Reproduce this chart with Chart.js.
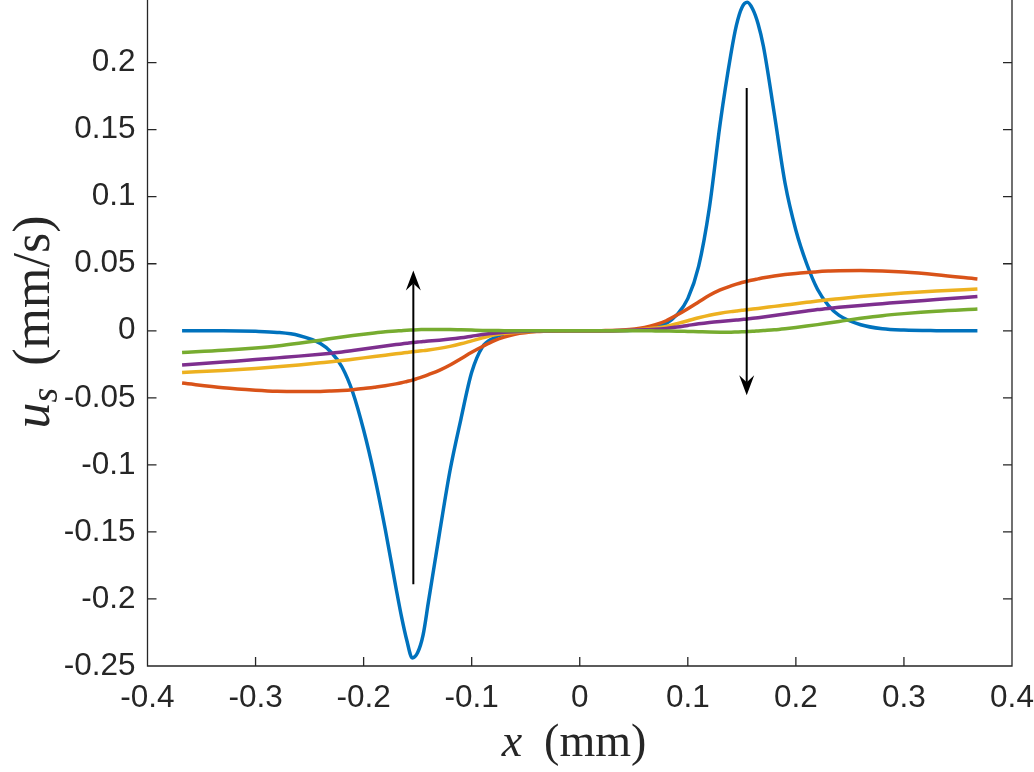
<!DOCTYPE html>
<html>
<head>
<meta charset="utf-8">
<title>u_s vs x</title>
<script src="https://cdn.jsdelivr.net/npm/chart.js@4.4.1/dist/chart.umd.min.js"></script>
<style>
  html, body { margin: 0; padding: 0; background: #fff; }
  #wrap { width: 1034px; height: 772px; }
</style>
</head>
<body>
<div id="wrap"><canvas id="usChart" width="1034" height="772"></canvas></div>
<script>
// x positions (mm), shared by every curve
const xMm = [
  -0.368, -0.33, -0.3, -0.28, -0.26, -0.24, -0.23, -0.22, -0.21, -0.2, -0.19, -0.18, -0.17, -0.165, -0.16,
  -0.155, -0.15, -0.145, -0.14, -0.13, -0.12, -0.11, -0.1, -0.09, -0.08, -0.07, -0.06, -0.04, -0.02,
  0,
  0.02, 0.04, 0.06, 0.07, 0.08, 0.09, 0.1, 0.11, 0.12, 0.13, 0.14, 0.145, 0.15, 0.155, 0.16,
  0.165, 0.17, 0.18, 0.19, 0.2, 0.21, 0.22, 0.23, 0.24, 0.26, 0.28, 0.3, 0.33, 0.368
];

// u_s (mm/s) for each curve
const curve1 = [
  0, 0, -0.0004, -0.0012, -0.0035, -0.0095, -0.016, -0.027, -0.046, -0.074, -0.108, -0.148, -0.192, -0.213, -0.231,
  -0.244, -0.240, -0.227, -0.202, -0.152, -0.104, -0.066, -0.031, -0.012, -0.0055, -0.0025, -0.001, -0.0002, 0,
  0,
  0, 0.0002, 0.001, 0.0025, 0.0055, 0.012, 0.024, 0.048, 0.092, 0.155, 0.207, 0.228, 0.241, 0.245, 0.240,
  0.229, 0.212, 0.162, 0.11, 0.075, 0.05, 0.031, 0.019, 0.0115, 0.0045, 0.0015, 0.0005, 0.0001, 0
];
const curve2 = [
  -0.039, -0.0425, -0.0443, -0.0451, -0.0453, -0.0452, -0.0449, -0.0445, -0.0439, -0.0431, -0.0421, -0.041, -0.0396, -0.0388, -0.0378,
  -0.0368, -0.0355, -0.0342, -0.0327, -0.0295, -0.0255, -0.0208, -0.016, -0.0117, -0.0077, -0.0047, -0.0026, -0.0006, -0.0001,
  0,
  0.0001, 0.0006, 0.0025, 0.0045, 0.0075, 0.0118, 0.0165, 0.0215, 0.0265, 0.0305, 0.0335, 0.0348, 0.036, 0.037, 0.0379,
  0.0387, 0.0395, 0.0408, 0.0419, 0.0428, 0.0435, 0.0441, 0.0445, 0.0448, 0.0449, 0.0446, 0.0438, 0.0418, 0.0386
];
const curve3 = [
  -0.0311, -0.0296, -0.0281, -0.0269, -0.0255, -0.0239, -0.0231, -0.0222, -0.0212, -0.0202, -0.0192, -0.0182, -0.0172, -0.0167, -0.0162,
  -0.0157, -0.0153, -0.0148, -0.0143, -0.0131, -0.0116, -0.0097, -0.0075, -0.0053, -0.0032, -0.002, -0.0012, -0.0003, 0,
  0,
  0, 0.0003, 0.0012, 0.002, 0.0032, 0.0053, 0.0075, 0.0097, 0.0116, 0.0131, 0.0143, 0.0148, 0.0153, 0.0157, 0.0162,
  0.0167, 0.0172, 0.0182, 0.0192, 0.0202, 0.0212, 0.0222, 0.0231, 0.0239, 0.0255, 0.0269, 0.0281, 0.0296, 0.0311
];
const curve4 = [
  -0.0256, -0.0233, -0.0215, -0.0202, -0.0189, -0.0175, -0.0167, -0.0158, -0.0147, -0.0136, -0.0125, -0.0114, -0.0103, -0.0098, -0.0093,
  -0.0088, -0.0084, -0.008, -0.0077, -0.007, -0.0062, -0.0052, -0.004, -0.0028, -0.0018, -0.0011, -0.0007, -0.0002, 0,
  0,
  0, 0.0002, 0.0007, 0.0011, 0.0018, 0.0028, 0.004, 0.0052, 0.0062, 0.007, 0.0077, 0.008, 0.0084, 0.0088, 0.0093,
  0.0098, 0.0103, 0.0114, 0.0125, 0.0136, 0.0147, 0.0158, 0.0167, 0.0175, 0.0189, 0.0202, 0.0215, 0.0233, 0.0256
];
const curve5 = [
  -0.0162, -0.0146, -0.0128, -0.0113, -0.0093, -0.007, -0.0058, -0.0046, -0.0035, -0.0025, -0.0016, -0.0008, -0.0002, 0.0001, 0.0004,
  0.0006, 0.0008, 0.0009, 0.001, 0.001, 0.0009, 0.0007, 0.0005, 0.0003, 0.0002, 0.0001, 0, 0, 0,
  0,
  0, 0, 0, -0.0001, -0.0002, -0.0003, -0.0005, -0.0007, -0.0009, -0.001, -0.001, -0.0009, -0.0008, -0.0006, -0.0004,
  -0.0001, 0.0002, 0.0008, 0.0016, 0.0025, 0.0035, 0.0046, 0.0058, 0.007, 0.0093, 0.0113, 0.0128, 0.0146, 0.0162
];

const xTicks = [-0.4, -0.3, -0.2, -0.1, 0, 0.1, 0.2, 0.3, 0.4];
const yTicks = [-0.25, -0.2, -0.15, -0.1, -0.05, 0, 0.05, 0.1, 0.15, 0.2];

// the two arrows: x position, start value, tip value
const arrowX = [-0.154, 0.1545];
const arrowFrom = [-0.189, 0.181];
const arrowTo = [0.045, -0.048];

const colors = ['#0072BD', '#D95319', '#EDB120', '#7E2F8E', '#77AC30'];
const curves = [curve1, curve2, curve3, curve4, curve5];

const axisColor = '#262626';
const tickFont = { family: '"Liberation Sans", Arial, Helvetica, sans-serif', size: 31.5 };

function fmtTick(v) {
  return String(parseFloat(v.toFixed(2)));
}

function drawArrow(ctx, x0, y0, x1, y1) {
  const ang = Math.atan2(y1 - y0, x1 - x0);
  const len = 20, half = 7.5, back = 13;
  const cos = Math.cos(ang), sin = Math.sin(ang);
  ctx.beginPath();
  ctx.moveTo(x0, y0);
  ctx.lineTo(x1 - back * cos, y1 - back * sin);
  ctx.lineWidth = 2;
  ctx.strokeStyle = '#000';
  ctx.stroke();
  ctx.beginPath();
  ctx.moveTo(x1, y1);
  ctx.lineTo(x1 - len * cos - half * sin, y1 - len * sin + half * cos);
  ctx.lineTo(x1 - back * cos, y1 - back * sin);
  ctx.lineTo(x1 - len * cos + half * sin, y1 - len * sin - half * cos);
  ctx.closePath();
  ctx.fillStyle = '#000';
  ctx.fill();
}

const framePlugin = {
  id: 'frame',
  afterDatasetsDraw(chart) {
    const { ctx, chartArea: a, scales: { x, y } } = chart;
    ctx.save();

    // box (left, bottom, right) and inward ticks
    ctx.strokeStyle = axisColor;
    ctx.lineWidth = 1.3;
    ctx.beginPath();
    ctx.moveTo(a.left, a.top);
    ctx.lineTo(a.left, a.bottom);
    ctx.lineTo(a.right, a.bottom);
    ctx.lineTo(a.right, a.top);
    xTicks.forEach(v => {
      const px = x.getPixelForValue(v);
      ctx.moveTo(px, a.bottom);
      ctx.lineTo(px, a.bottom - 9);
    });
    yTicks.forEach(v => {
      const py = y.getPixelForValue(v);
      ctx.moveTo(a.left, py);
      ctx.lineTo(a.left + 9, py);
      ctx.moveTo(a.right, py);
      ctx.lineTo(a.right - 9, py);
    });
    ctx.stroke();

    // arrows
    arrowX.forEach((xv, i) => {
      const px = x.getPixelForValue(xv);
      drawArrow(ctx, px, y.getPixelForValue(arrowFrom[i]), px, y.getPixelForValue(arrowTo[i]));
    });

    // x label: x (mm)
    ctx.fillStyle = axisColor;
    ctx.textBaseline = 'alphabetic';
    ctx.textAlign = 'left';
    const serif = '"Liberation Serif", "Times New Roman", serif';
    let itFont = 'italic 46px ' + serif;
    let rmFont = '46px ' + serif;
    ctx.font = itFont;
    const wx = ctx.measureText('x').width;
    ctx.font = rmFont;
    const wmm = ctx.measureText('(mm)').width;
    const gapX = 22;
    const totX = wx + gapX + wmm;
    const sx = 574 - totX / 2;
    ctx.font = itFont;
    ctx.fillText('x', sx, 756);
    ctx.font = rmFont;
    ctx.fillText('(mm)', sx + wx + gapX, 756);

    // y label: u_s (mm/s), rotated
    itFont = 'italic 52px ' + serif;
    rmFont = '52px ' + serif;
    const subFont = 'italic 38px ' + serif;
    ctx.font = itFont;
    const wu = ctx.measureText('u').width;
    ctx.font = subFont;
    const ws = ctx.measureText('s').width;
    ctx.font = rmFont;
    const wmms = ctx.measureText('(mm/s)').width;
    const gapY = 22;
    const totY = wu + ws + gapY + wmms;
    ctx.translate(49, 322);
    ctx.rotate(-Math.PI / 2);
    const sy = -totY / 2;
    ctx.font = itFont;
    ctx.fillText('u', sy, 0);
    ctx.font = subFont;
    ctx.fillText('s', sy + wu, 8);
    ctx.font = rmFont;
    ctx.fillText('(mm/s)', sy + wu + ws + gapY, 0);

    ctx.restore();
  }
};

new Chart(document.getElementById('usChart'), {
  type: 'line',
  data: {
    datasets: curves.map((c, i) => ({
      data: xMm.map((xv, j) => ({ x: xv, y: c[j] })),
      borderColor: colors[i],
      borderWidth: 3.5,
      pointRadius: 0,
      fill: false,
      cubicInterpolationMode: 'monotone',
      order: curves.length - i
    }))
  },
  options: {
    responsive: false,
    animation: false,
    devicePixelRatio: 1,
    layout: { padding: { left: 0, right: 22, top: 0, bottom: 0 } },
    plugins: { legend: { display: false }, tooltip: { enabled: false } },
    scales: {
      x: {
        type: 'linear',
        min: -0.4,
        max: 0.4,
        afterBuildTicks: s => { s.ticks = xTicks.map(v => ({ value: v })); },
        afterFit: s => { s.height = 106; s.paddingLeft = 0; s.paddingRight = 0; },
        grid: { display: false, drawTicks: false },
        border: { display: false },
        ticks: { color: axisColor, font: tickFont, padding: 13, maxRotation: 0, callback: fmtTick }
      },
      y: {
        type: 'linear',
        min: -0.25,
        max: 0.2467,
        afterBuildTicks: s => { s.ticks = yTicks.map(v => ({ value: v })); },
        afterFit: s => { s.width = 147.5; s.paddingTop = 0; s.paddingBottom = 0; },
        grid: { display: false, drawTicks: false },
        border: { display: false },
        ticks: { color: axisColor, font: tickFont, padding: 12, callback: fmtTick }
      }
    }
  },
  plugins: [framePlugin]
});
</script>
</body>
</html>
